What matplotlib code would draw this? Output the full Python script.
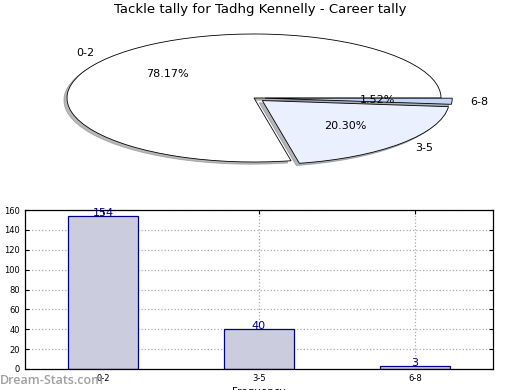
import matplotlib
matplotlib.use("Agg")
import matplotlib.pyplot as plt

title = "Tackle tally for Tadhg Kennelly - Career tally"
categories = ["0-2", "3-5", "6-8"]
counts = [154, 40, 3]
pie_colors = ["#ffffff", "#eaf0fd", "#c4d6f7"]
explode = [0.0, 0.06, 0.06]

fig = plt.figure(figsize=(5.2, 3.9), dpi=100)
fig.patch.set_facecolor("white")

# Pie axes (stretched ellipse)
axp = fig.add_axes([67/520, (390-162)/390, 374/520, 128/390])
wedges, texts, autotexts = axp.pie(counts, labels=categories, colors=pie_colors,
                                   explode=explode, autopct="%1.2f%%",
                                   shadow=dict(ox=-0.012, oy=-0.025, shade=0.55),
                                   startangle=0, labeldistance=1.1, pctdistance=0.6,
                                   wedgeprops=dict(edgecolor="black", linewidth=0.6),
                                   textprops=dict(fontsize=8))
axp.set_aspect("auto")
axp.set_xlim(-1, 1)
axp.set_ylim(-1, 1)
axp.axis("off")
for a in axp.patches:
    a.set_clip_on(False)
for t in texts + autotexts:
    t.set_clip_on(False)
fig.text(260/520, 1 - 10/390, title, ha="center", va="center", fontsize=9.5)

# Bar axes
axb = fig.add_axes([25/520, (390-369)/390, 468/520, 159/390])
x = list(range(len(categories)))
axb.bar(x, counts, width=0.45, color="#ccccdf", edgecolor="#000080", linewidth=0.9, zorder=2)
for xi, c in zip(x, counts):
    axb.annotate(str(c), (xi, c), xytext=(0, -1.2), textcoords="offset points",
                 ha="center", va="bottom", color="#000080", fontsize=8, zorder=3)
axb.set_xlim(-0.5, 2.5)
axb.set_ylim(0, 160)
axb.set_xticks(x)
axb.set_xticklabels(categories)
axb.set_yticks(range(0, 161, 20))
axb.tick_params(axis="both", direction="in", labelsize=6, length=3, top=True, right=True)
axb.grid(True, linestyle=":", color="#aaaaaa", linewidth=0.9, zorder=0)
axb.set_axisbelow(True)
axb.set_ylabel("Stat Intervals", fontsize=7.5, labelpad=2)
axb.set_xlabel("Frequency", fontsize=7.5, labelpad=3)
for s in axb.spines.values():
    s.set_linewidth(0.9)

fig.text(0, 10/390, "Dream-Stats.com", ha="left", va="center", fontsize=9,
         color="#a0a0a0", fontweight="semibold", family="Open Sans")

fig.savefig("out.png", dpi=100)
